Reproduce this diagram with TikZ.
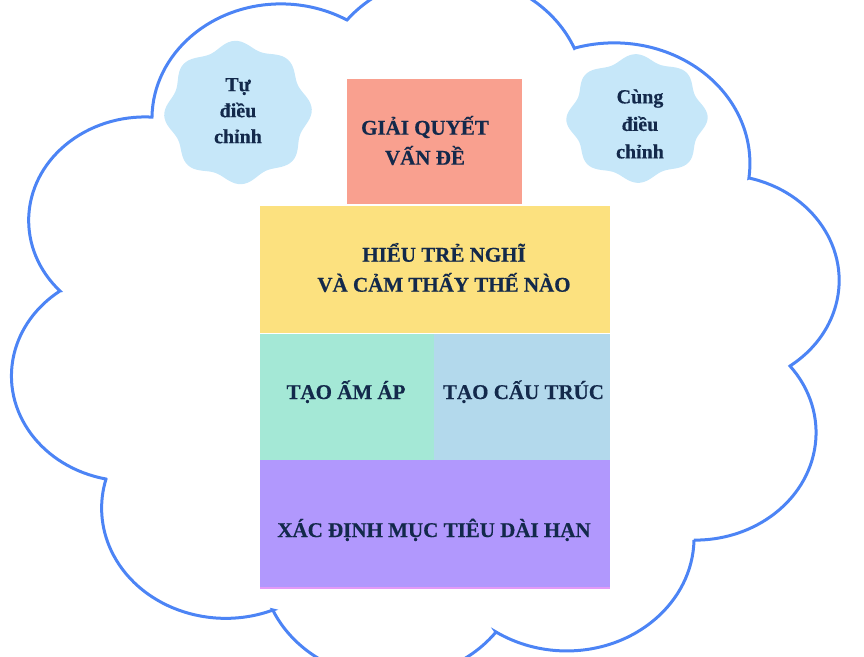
\documentclass[tikz,border=0pt]{standalone}
\usepackage{fontspec}
\setmainfont{Liberation Serif}
\newfontfamily\heavyserif{Liberation Serif}[UprightFont=* Bold, FakeBold=0.5]
\definecolor{ink}{HTML}{13294B}
\definecolor{cloudblue}{HTML}{4C84F5}
\definecolor{blobfill}{HTML}{C6E7F9}
\definecolor{pinkc}{HTML}{F9A08F}
\definecolor{yellowc}{HTML}{FCE17F}
\definecolor{greenc}{HTML}{A4E8D6}
\definecolor{bluec}{HTML}{B3D9EC}
\definecolor{purplec}{HTML}{B198FD}
\definecolor{purpleedge}{HTML}{E39AF6}
\begin{document}
\begin{tikzpicture}[x=1pt,y=-1pt,
  panel/.style={inner sep=0pt, outer sep=0pt, anchor=north west, draw=none},
  biglbl/.style={font=\heavyserif\fontsize{21}{30}\selectfont, text=ink, align=center, inner sep=0pt},
  blobtxt/.style={font=\heavyserif\fontsize{20}{#1}\selectfont, text=ink, align=center, inner sep=0pt},
  cloudline/.style={draw=cloudblue, line width=3pt, line join=miter}
]
\useasboundingbox (0,0) rectangle (864,656);
\begin{scope}
\clip (0,0) rectangle (864,656);
\coordinate (c1) at (347,20);
\coordinate (c2) at (575,48);
\coordinate (c3) at (749,178);
\coordinate (c4) at (790,366);
\coordinate (c5) at (694,540);
\coordinate (c6) at (496,632);
\coordinate (c7) at (273,610);
\coordinate (c8) at (106,479);
\coordinate (c9) at (60,291);
\coordinate (c10) at (152,117);
\draw[cloudline]
  (c10) arc[start angle=180.75, end angle=300.7, x radius=129, y radius=114.6]
  -- (c1) arc[start angle=218.6, end angle=337.4, x radius=133.4, y radius=118.5]
  -- (c2) arc[start angle=253.2, end angle=367.0, x radius=135.7, y radius=120.5]
  -- (c3) arc[start angle=284.0, end angle=414.0, x radius=118.9, y radius=105.6]
  -- (c4) arc[start angle=-38.3, end angle=90.5, x radius=121.0, y radius=107.5]
  -- (c5) arc[start angle=1.1, end angle=123.7, x radius=127.4, y radius=113.1]
  -- (c6) arc[start angle=36.8, end angle=155.9, x radius=130.3, y radius=115.7]
  -- (c7) arc[start angle=67.6, end angle=195.3, x radius=124.1, y radius=110.2]
  -- (c8) arc[start angle=101.7, end angle=233.7, x radius=118.6, y radius=105.3]
  -- (c9) arc[start angle=137.0, end angle=273.3, x radius=116.6, y radius=103.5]
  -- cycle;
\end{scope}

% small wavy clouds
\fill[blobfill] plot[domain=0:360, samples=145, variable=\t]
  ({238+70*(1+0.055*cos(8*\t+20))*cos(\t)}, {112.5+68*(1+0.055*cos(8*\t+20))*sin(\t)}) -- cycle;
\fill[blobfill] plot[domain=0:360, samples=145, variable=\t]
  ({637+67*(1+0.055*cos(8*\t+10))*cos(\t)}, {118.5+61*(1+0.055*cos(8*\t+10))*sin(\t)}) -- cycle;

% panels
\node[panel, fill=pinkc, minimum width=175pt, minimum height=125pt] (solve) at (347,79) {};
\node[panel, fill=yellowc, minimum width=350pt, minimum height=126.5pt] (understand) at (260,206) {};
\node[panel, fill=greenc, minimum width=174pt, minimum height=126pt] (warm) at (260,334) {};
\node[panel, fill=bluec, minimum width=176pt, minimum height=126pt] (structure) at (434,334) {};
\node[panel, fill=purplec, minimum width=350pt, minimum height=128pt] (goals) at (260,460) {};
\draw[purpleedge, line width=1.5pt] (goals.south west) -- (goals.south east);

% labels
\node[biglbl] (solvetxt) at (425,140.5) {GIẢI QUYẾT\\VẤN ĐỀ};
\node[biglbl] (undtxt) at (444,267.5) {HIỂU TRẺ NGHĨ\\VÀ CẢM THẤY THẾ NÀO};
\node[biglbl, anchor=base] (warmtxt) at (346,399) {TẠO ẤM ÁP};
\node[biglbl, anchor=base] (structtxt) at (523.5,399) {TẠO CẤU TRÚC};
\node[biglbl, anchor=base] (goaltxt) at (434,537) {XÁC ĐỊNH MỤC TIÊU DÀI HẠN};
\node[blobtxt=26] (selftxt) at (238,110.7) {Tự\\điều\\chỉnh};
\node[blobtxt=27.5] (cotxt) at (640,124) {Cùng\\điều\\chỉnh};
\end{tikzpicture}
\end{document}
